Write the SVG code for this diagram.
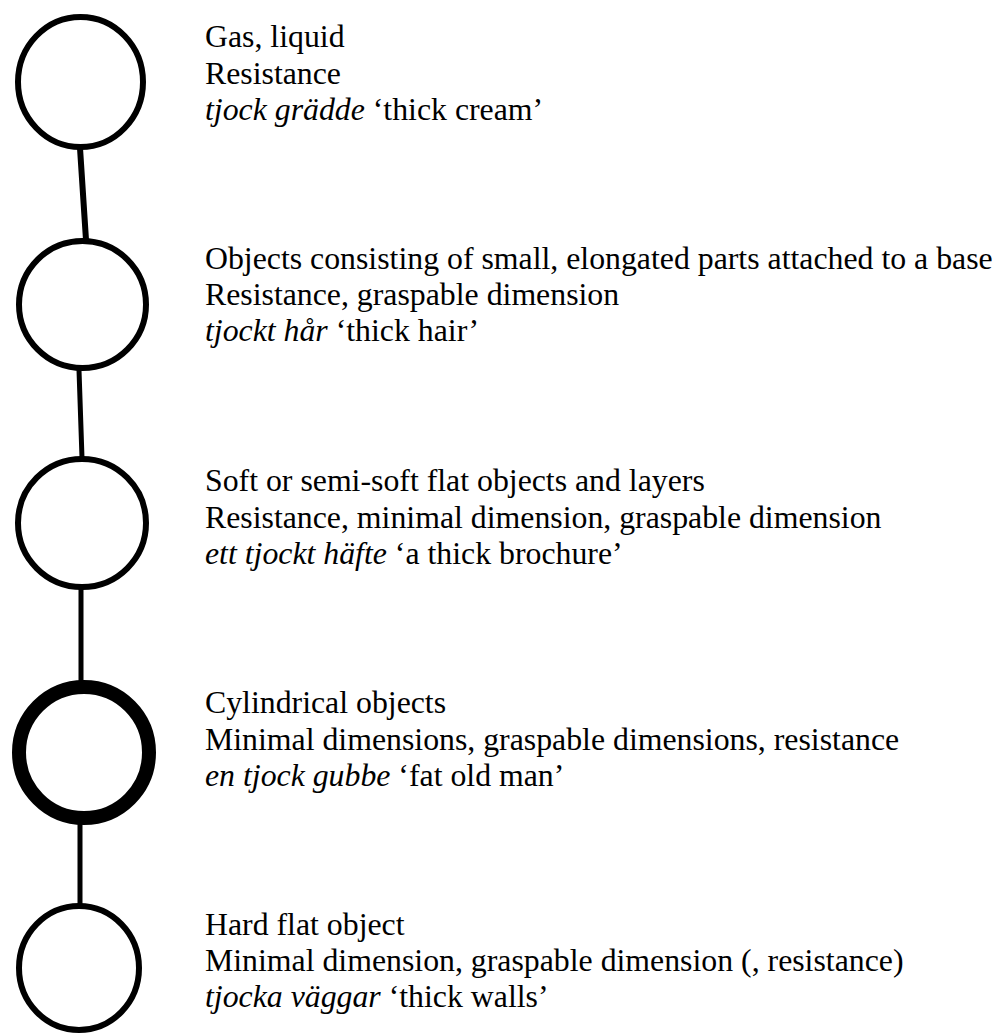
<svg xmlns="http://www.w3.org/2000/svg" width="1001" height="1034" viewBox="0 0 1001 1034">
<style>
.c{fill:none;stroke:#000;stroke-width:6}
.ck{fill:none;stroke:#000;stroke-width:14}
.e{stroke:#000;stroke-linecap:round;fill:none}
text{font-family:"Liberation Serif","Times New Roman",serif;font-size:31.8px;fill:#000}
.i{font-style:italic}
</style>
<rect width="1001" height="1034" fill="#fff"/>
<g id="connectors">
<path class="e" d="M80,148 L86,240" stroke-width="6"/>
<path class="e" d="M79,370 L82,458" stroke-width="5"/>
<path class="e" d="M81,588 L81,682" stroke-width="5"/>
<path class="e" d="M80,822 L80,905" stroke-width="5"/>
</g>
<g id="node1">
<ellipse class="c" cx="80.5" cy="82" rx="62.5" ry="65"/>
<text x="205" y="47">Gas, liquid</text>
<text x="205" y="84">Resistance</text>
<text x="205" y="120"><tspan class="i">tjock grädde</tspan> ‘thick cream’</text>
</g>
<g id="node2">
<ellipse class="c" cx="82.5" cy="304.5" rx="63.5" ry="63.5"/>
<text x="205" y="269">Objects consisting of small, elongated parts attached to a base</text>
<text x="205" y="305">Resistance, graspable dimension</text>
<text x="205" y="341"><tspan class="i">tjockt hår</tspan> ‘thick hair’</text>
</g>
<g id="node3">
<ellipse class="c" cx="82" cy="523" rx="64" ry="64"/>
<text x="205" y="491">Soft or semi-soft flat objects and layers</text>
<text x="205" y="528">Resistance, minimal dimension, graspable dimension</text>
<text x="205" y="564"><tspan class="i">ett tjockt häfte</tspan> ‘a thick brochure’</text>
</g>
<g id="node4">
<ellipse class="ck" cx="84" cy="752.5" rx="65" ry="65.5"/>
<text x="205" y="713">Cylindrical objects</text>
<text x="205" y="750">Minimal dimensions, graspable dimensions, resistance</text>
<text x="205" y="786"><tspan class="i">en tjock gubbe</tspan> ‘fat old man’</text>
</g>
<g id="node5">
<ellipse class="c" cx="79" cy="968" rx="60" ry="62"/>
<text x="205" y="935">Hard flat object</text>
<text x="205" y="971">Minimal dimension, graspable dimension (, resistance)</text>
<text x="205" y="1007"><tspan class="i">tjocka väggar</tspan> ‘thick walls’</text>
</g>
</svg>
